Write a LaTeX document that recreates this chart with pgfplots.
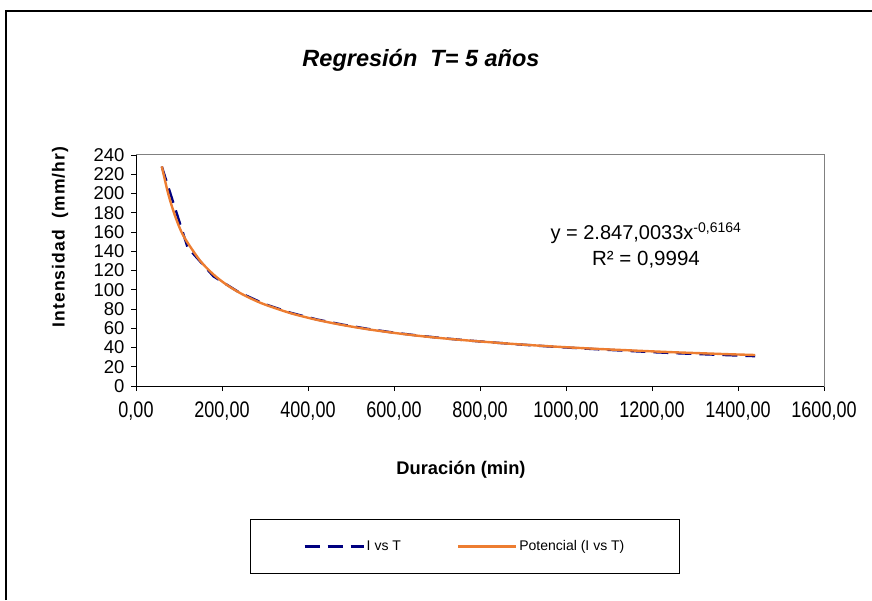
\documentclass[border=0pt]{standalone}
\usepackage{fontspec}
\setmainfont{Liberation Sans}
\usepackage{graphicx}
\usepackage{pgfplots}
\pgfplotsset{compat=1.18}
\definecolor{navyline}{RGB}{0,0,128}
\definecolor{orangeline}{RGB}{237,125,49}
\pgfplotsset{
  legA/.style={legend image code/.code={\draw[##1, line width=2.4pt] (0pt,0pt) -- (59pt,0pt);}},
  legB/.style={legend image code/.code={\draw[##1, line width=2.4pt] (0pt,0pt) -- (58pt,0pt);}},
}
\begin{document}
\begin{tikzpicture}[x=1pt,y=1pt]
\useasboundingbox (0,0) rectangle (872,600);
% outer chart frame (top and left visible)
\draw[black, line width=1.2pt] (6,0) -- (6,589) -- (872,589);
% title
\node[font=\bfseries\itshape\fontsize{23.5}{28}\selectfont] at (421,540) {Regresión\ \ T= 5 años};
\begin{axis}[
  at={(136pt,214pt)}, anchor=south west,
  width=688pt, height=231pt, scale only axis,
  xmin=0, xmax=1600, ymin=0, ymax=240,
  xtick={0,200,...,1600}, ytick={0,20,...,240},
  xtick pos=left, ytick pos=left,
  tick align=outside, major tick length=5pt,
  axis line style={draw=gray, line width=1pt},
  tick style={black, line width=0.8pt},
  /pgf/number format/assume math mode=true,
  xticklabel={\scalebox{1}[1.25]{\pgfmathprintnumber[fixed, fixed zerofill, precision=2, use comma, 1000 sep={}]{\tick}}},
  xticklabel style={font=\fontsize{18}{18}\selectfont},
  yticklabel style={font=\fontsize{18.5}{18.5}\selectfont, /pgf/number format/.cd, fixed, precision=0, 1000 sep={}},
  xticklabel shift=7pt,
  yticklabel shift=3pt,
  legend style={at={(axis description cs:0.478,-0.695)}, anchor=center, draw=black, line width=1pt,
     inner xsep=53pt, inner ysep=19pt, font=\fontsize{14}{16}\selectfont,
     /tikz/every even column/.append style={column sep=54pt}},
  legend columns=2,
  clip=false,
]
\addplot[navyline, line width=2.4pt, dash pattern=on 15pt off 8pt, legA]
  coordinates {
  (60,228) (120,144) (180,114) (240,97.2) (300,85) (360,76) (420,69.2)
  (480,63.8) (540,59.3) (600,55.4) (660,52.2) (720,49.4) (780,47) (840,44.9)
  (900,42.9) (960,41.1) (1020,39.5) (1080,38) (1140,36.6) (1200,35.2)
  (1260,34) (1320,33) (1380,32) (1440,31)
  };
\addlegendentry{I vs T}
\addplot[orangeline, line width=2.4pt, smooth, legB]
  coordinates {
  (60,228.2) (75,199.6) (90,177.8) (105,160.7) (120,148.9) (150,129.7)
  (180,115.9) (210,105.4) (240,97.1) (270,90.3) (300,84.6) (360,75.6)
  (420,68.8) (480,63.4) (540,58.9) (600,55.2) (660,52.0) (720,49.3)
  (780,47.0) (840,44.9) (900,43.0) (960,41.3) (1020,39.8) (1080,38.4)
  (1140,37.2) (1200,36.0) (1260,34.9) (1320,33.95) (1380,33.0) (1440,32.2)
  };
\addlegendentry{Potencial (I vs T)}
\draw[black, line width=1pt] (rel axis cs:0,1) -- (rel axis cs:0,0) -- (rel axis cs:1,0);
\end{axis}
% axis labels
\node[font=\bfseries\fontsize{17.5}{20}\selectfont\addfontfeature{LetterSpace=6}, rotate=90] at (60,363) {Intensidad\ \ (mm/hr)};
\node[font=\bfseries\fontsize{18.3}{20}\selectfont] at (461,130) {Duración (min)};
% regression equation
\node[font=\fontsize{20}{24}\selectfont] at (646,367) {y = 2.847,0033x\textsuperscript{-0,6164}};
\node[font=\fontsize{20.5}{24}\selectfont] at (646,340) {R² = 0,9994};
\end{tikzpicture}
\end{document}
